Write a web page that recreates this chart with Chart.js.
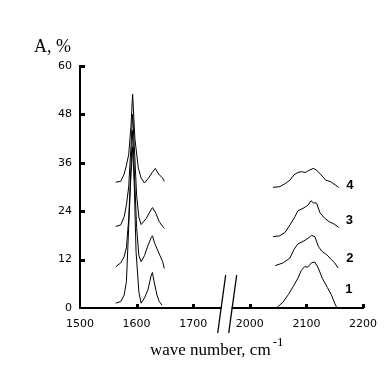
<!DOCTYPE html>
<html><head><meta charset="utf-8">
<script src="https://cdn.jsdelivr.net/npm/chart.js@4/dist/chart.umd.min.js"></script>
<style>html,body{margin:0;padding:0;background:#fff;}canvas{display:block;}</style>
</head><body>
<canvas id="c" width="387" height="373"></canvas>
<script>
// ---- data (wave numbers in cm-1, absorbance A in %) ----
const seriesNames = ['1', '2', '3', '4'];
const yTickValues = [0, 12, 24, 36, 48, 60];
const xTickLabels = ['1500', '1600', '1700', '2000', '2100', '2200'];

const c1LeftX  = [1563,1572,1578,1582,1586,1590,1593,1596,1599,1604,1608,1614,1620,1626,1628,1631,1636,1640,1645];
const c1LeftY  = [1.2,1.6,3.2,6.5,20,33,40,30,14,4,1.2,2.5,4.5,8.2,8.8,6.5,3.2,1.6,0.7];
const c1RightX = [2047,2059,2068,2077,2085,2091,2097,2102,2109,2115,2121,2128,2137,2144,2150,2154];
const c1RightY = [0,1.5,3.3,5.4,7.4,9.3,10.3,10.1,11.2,11.4,9.9,7.4,5.1,3.3,1.2,0];

const c2LeftX  = [1563,1572,1578,1582,1586,1590,1593,1596,1600,1604,1608,1614,1620,1626,1628,1632,1637,1641,1646,1649];
const c2LeftY  = [10.2,11.2,12.7,15,22,35,44,34,20,13,11.5,13,15.5,17.5,17.9,16,14.4,13.1,11.5,9.8];
const c2RightX = [2045,2059,2071,2078,2085,2094,2103,2109,2115,2121,2127,2136,2144,2150,2156];
const c2RightY = [10.5,11.2,12.4,14.5,15.9,16.5,17.3,18.0,17.7,15.3,14.1,13.2,12.0,11.2,9.9];

const c3LeftX  = [1563,1572,1578,1582,1586,1590,1593,1596,1600,1604,1608,1617,1622,1628,1634,1640,1646,1649];
const c3LeftY  = [20.2,20.6,22.6,25.5,30,40,48,40,28,22.5,20.7,22.2,23.5,24.9,23.5,21.4,20.2,19.8];
const c3RightX = [2041,2053,2062,2071,2080,2085,2094,2103,2108,2112,2118,2124,2132,2140,2149,2157];
const c3RightY = [17.7,17.9,18.7,20.6,22.7,24.1,24.7,25.5,26.6,26.1,26.0,23.6,22.3,21.4,20.8,20.0];

const c4LeftX  = [1563,1572,1578,1582,1586,1590,1593,1597,1603,1608,1614,1621,1627,1633,1639,1646,1649];
const c4LeftY  = [31.2,31.4,33.2,35.4,38,45,53,42,34.7,32.2,31,32.2,33.5,34.6,33.2,32.2,31.4];
const c4RightX = [2041,2053,2062,2071,2078,2085,2091,2098,2104,2112,2118,2126,2134,2143,2151,2157];
const c4RightY = [29.9,30.1,30.8,31.7,33.0,33.6,33.8,33.6,34.1,34.6,34.2,33.0,31.7,31.3,30.5,29.9];

// ---- broken axis: 1800..1999 is cut out ----
const BREAK_SHIFT = 200;
function axisPos(wn) { return wn >= 1900 ? wn - BREAK_SHIFT : wn; }
function makeSeries(lx, ly, rx, ry) {
  const pts = lx.map((x, i) => ({ x: axisPos(x), y: ly[i] }));
  pts.push({ x: 1750, y: null });
  rx.forEach((x, i) => pts.push({ x: axisPos(x), y: ry[i] }));
  return pts;
}
const allSeries = [
  makeSeries(c1LeftX, c1LeftY, c1RightX, c1RightY),
  makeSeries(c2LeftX, c2LeftY, c2RightX, c2RightY),
  makeSeries(c3LeftX, c3LeftY, c3RightX, c3RightY),
  makeSeries(c4LeftX, c4LeftY, c4RightX, c4RightY)
];

const decorPlugin = {
  id: 'decor',
  afterDraw(chart, args, opts) {
    const ctx = chart.ctx, xs = chart.scales.x, ys = chart.scales.y, ca = chart.chartArea;
    ctx.save();
    ctx.fillStyle = '#000';
    // inward tick marks
    yTickValues.forEach(v => {
      if (v === ys.min) return;
      const py = Math.round(ys.getPixelForValue(v));
      ctx.fillRect(ca.left, py - 1, 5, 3);
    });
    for (let v = xs.min + 100; v <= xs.max; v += 100) {
      const px = Math.round(xs.getPixelForValue(v));
      ctx.fillRect(px - 1, ca.bottom - 4, 3, 4);
    }
    // axis break
    const x0 = xs.getPixelForValue(opts.breakAt), y0 = ca.bottom;
    ctx.fillStyle = '#fff';
    ctx.fillRect(x0 - 5, y0 - 2, 10, 4);
    ctx.strokeStyle = '#000';
    ctx.lineWidth = 1.3;
    [-5.5, 5.5].forEach(off => {
      ctx.beginPath();
      ctx.moveTo(x0 + off + 4.6, y0 - 33);
      ctx.lineTo(x0 + off - 3.4, y0 + 25);
      ctx.stroke();
    });
    // titles
    ctx.fillStyle = '#000';
    ctx.textBaseline = 'alphabetic';
    ctx.textAlign = 'left';
    ctx.font = '18px "Liberation Serif"';
    ctx.fillText('A, %', 34, 52);
    ctx.font = '17px "Liberation Serif"';
    const t = 'wave number, cm';
    ctx.fillText(t, 150, 355);
    const w = ctx.measureText(t).width;
    ctx.font = '13px "Liberation Serif"';
    ctx.fillText('-1', 150 + w + 2, 346);
    // curve labels
    ctx.font = 'bold 13px "Liberation Sans"';
    ctx.textAlign = 'center';
    ctx.textBaseline = 'middle';
    opts.labels.forEach((lb, i) => {
      ctx.fillText(seriesNames[i], xs.getPixelForValue(lb.x), ys.getPixelForValue(lb.y));
    });
    ctx.restore();
  }
};

new Chart(document.getElementById('c'), {
  type: 'line',
  data: {
    datasets: allSeries.map((pts, i) => ({
      label: seriesNames[i],
      data: pts,
      borderColor: '#000',
      borderWidth: 1,
      pointRadius: 0,
      tension: 0,
      spanGaps: false,
      fill: false
    }))
  },
  options: {
    responsive: false,
    animation: false,
    devicePixelRatio: 1,
    layout: { padding: { top: 66, right: 24, left: 0, bottom: 0 } },
    plugins: {
      legend: { display: false },
      tooltip: { enabled: false },
      decor: {
        breakAt: 1759,
        labels: [
          { x: 1975, y: 4.7 },
          { x: 1977, y: 12.4 },
          { x: 1976, y: 21.6 },
          { x: 1977, y: 30.5 }
        ]
      }
    },
    scales: {
      x: {
        type: 'linear',
        min: 1500, max: 2000,
        grid: { display: false, drawTicks: false },
        border: { display: true, color: '#000', width: 2 },
        ticks: {
          stepSize: 100,
          padding: 10,
          color: '#000',
          font: { family: 'DejaVu Sans', size: 11 },
          maxRotation: 0,
          callback: (v) => xTickLabels[Math.round((v - 1500) / 100)]
        },
        afterFit: (s) => { s.height = 65; }
      },
      y: {
        type: 'linear',
        min: 0, max: 60,
        grid: { display: false, drawTicks: false },
        border: { display: true, color: '#000', width: 2 },
        ticks: {
          stepSize: 12,
          padding: 8,
          color: '#000',
          font: { family: 'DejaVu Sans', size: 11 }
        },
        afterFit: (s) => { s.width = 80; }
      }
    }
  },
  plugins: [decorPlugin]
});
</script>
</body></html>
